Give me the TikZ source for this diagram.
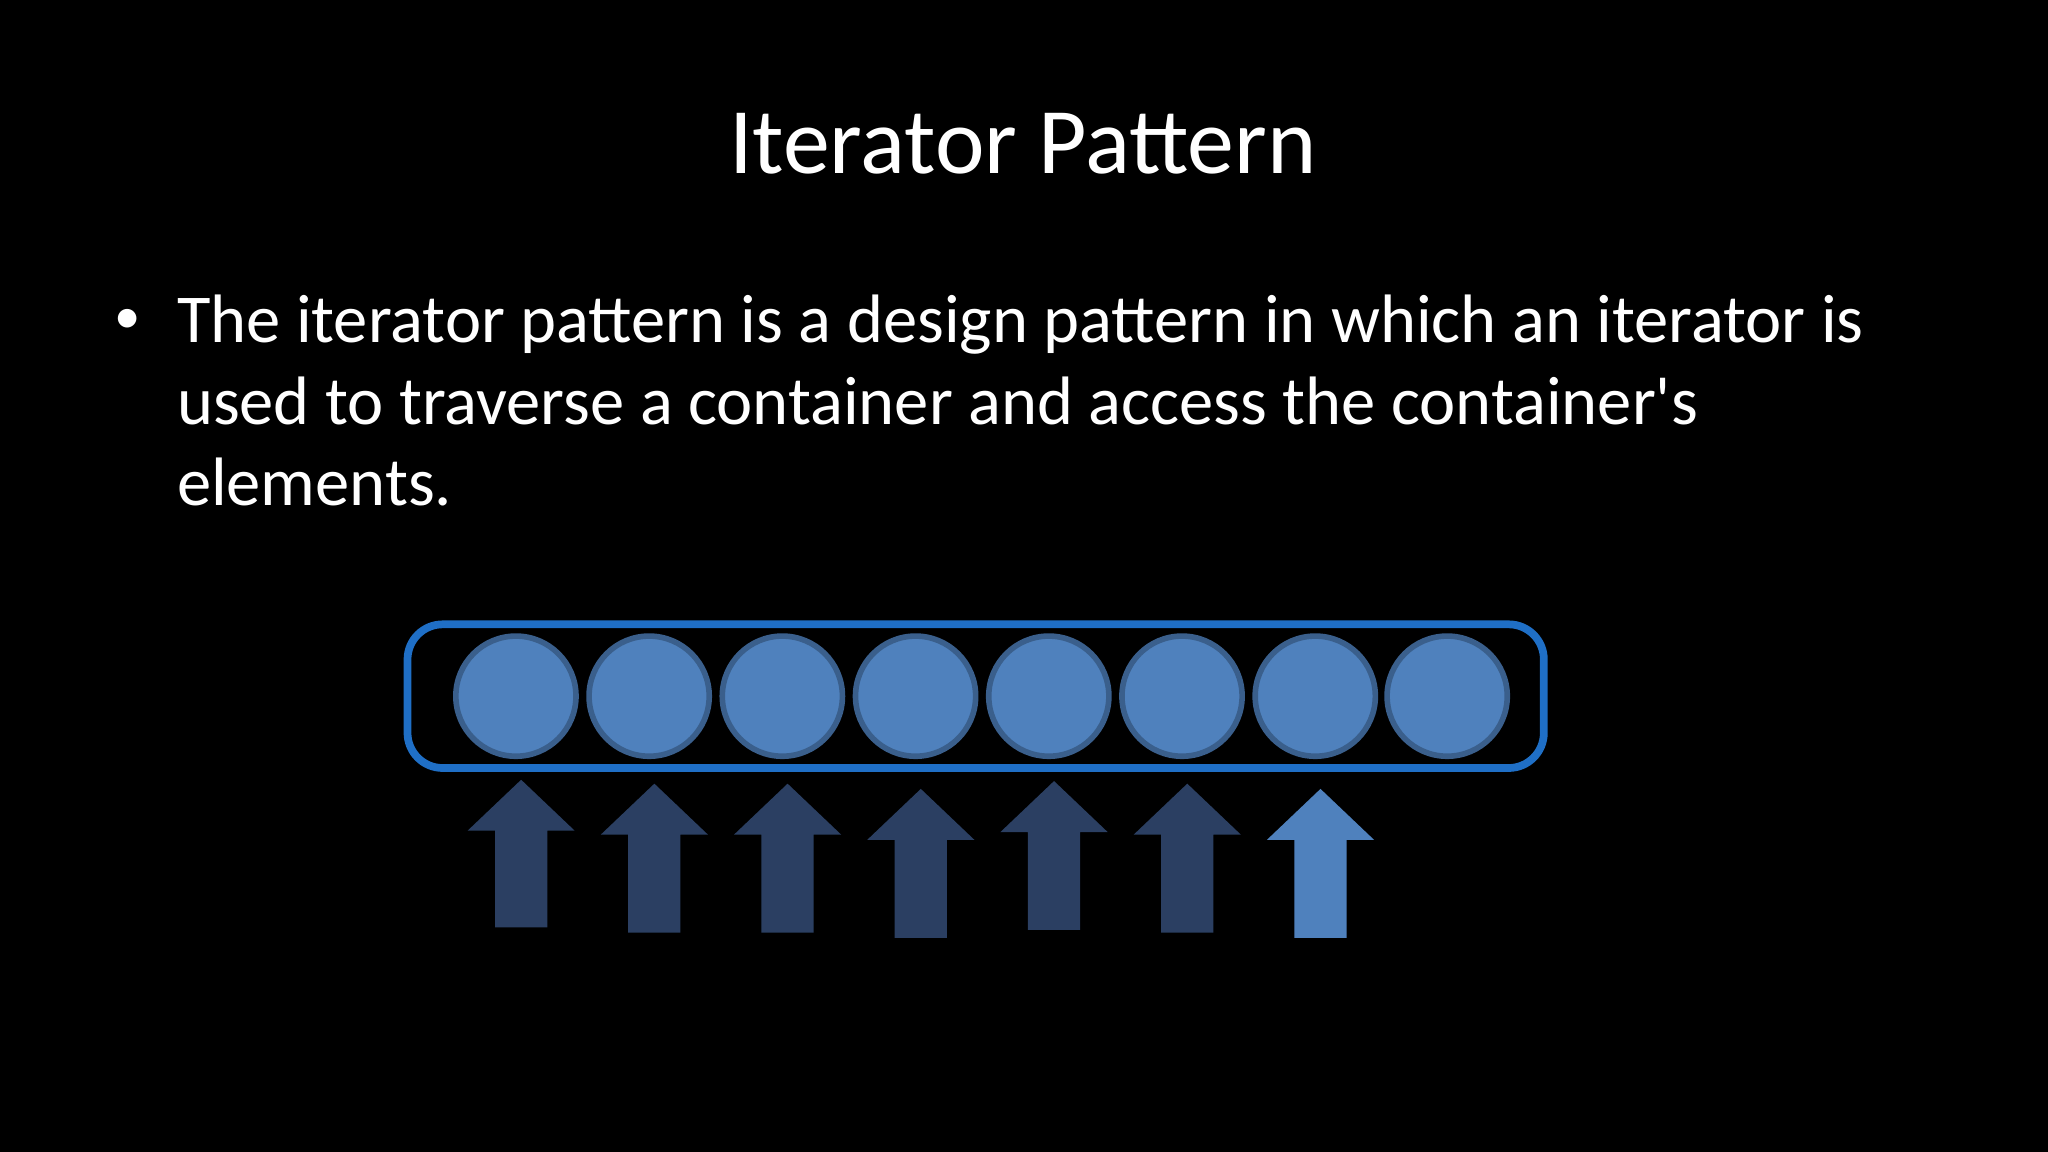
\documentclass[tikz,border=0pt]{standalone}
\usepackage{fontspec}
\setmainfont{Carlito}
\definecolor{cfill}{HTML}{4F81BD}
\definecolor{cedge}{HTML}{3A5F8C}
\definecolor{boxc}{HTML}{1F6FC6}
\definecolor{darkarrow}{HTML}{2B3F62}
\begin{document}
\begin{tikzpicture}[x=0.013061cm,y=-0.013061cm,
  bodytext/.style={text=white,anchor=base west,inner sep=0pt,font=\fontsize{19.5}{23}\selectfont}]
\fill[black] (0,0) rectangle (1568,882);
\useasboundingbox (0,0) rectangle (1568,882);
\node[text=white,anchor=base,inner sep=0pt,font=\fontsize{26.7}{32}\selectfont] (title) at (783,133) {Iterator Pattern};
\node[text=white,anchor=base,inner sep=0pt,font=\fontsize{15}{18}\selectfont] (bul) at (98,255) {•};
\node[bodytext] (l1) at (135,262) {The iterator pattern is a design pattern in which an iterator is};
\node[bodytext] (l2) at (135,325) {used to traverse a container and access the container\textquotesingle s};
\node[bodytext] (l3) at (135,387) {elements.};
\draw[boxc,line width=2.2pt,rounded corners=10pt] (312,478) rectangle (1182,588);
\foreach \i/\x in {1/395,2/497,3/599,4/701,5/803,6/905,7/1007,8/1108}
  \node[circle,fill=cfill,draw=cedge,line width=1.6pt,minimum size=92*0.013061cm,inner sep=0pt] (c\i) at (\x,533) {};
\foreach \i/\x/\t/\b/\col in {1/399/597/710/darkarrow,2/501/600/714/darkarrow,3/603/600/714/darkarrow,4/705/604/718/darkarrow,5/807/598/712/darkarrow,6/909/600/714/darkarrow,7/1011/604/718/cfill}
  \fill[\col] (\x,\t) -- (\x+41,\t+39) -- (\x+20,\t+39) -- (\x+20,\b) -- (\x-20,\b) -- (\x-20,\t+39) -- (\x-41,\t+39) -- cycle;
\end{tikzpicture}
\end{document}
